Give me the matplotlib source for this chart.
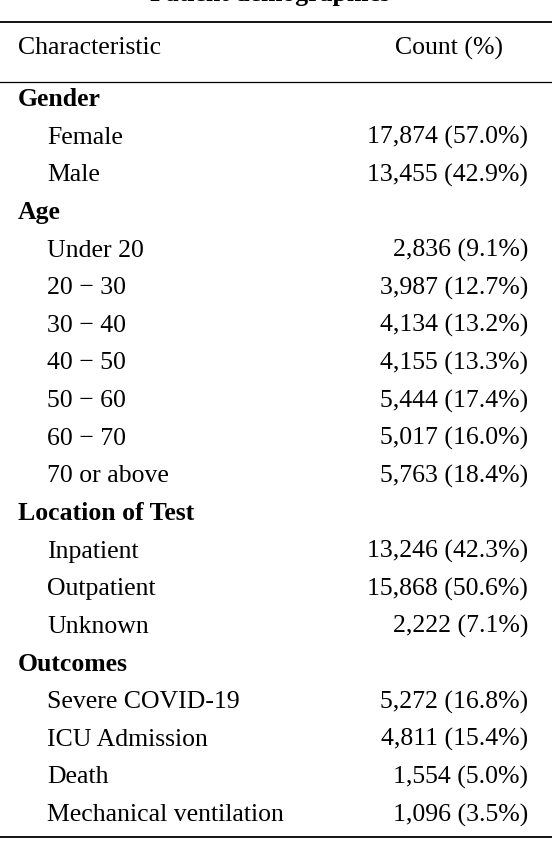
import matplotlib.pyplot as plt

sections = ["Gender", "Age", "Location of Test", "Outcomes"]
items = [
    ["Female", "Male"],
    ["Under 20", "20 − 30", "30 − 40", "40 − 50", "50 − 60", "60 − 70", "70 or above"],
    ["Inpatient", "Outpatient", "Unknown"],
    ["Severe COVID-19", "ICU Admission", "Death", "Mechanical ventilation"],
]
counts = [
    [17874, 13455],
    [2836, 3987, 4134, 4155, 5444, 5017, 5763],
    [13246, 15868, 2222],
    [5272, 4811, 1554, 1096],
]
pcts = [
    [57.0, 42.9],
    [9.1, 12.7, 13.2, 13.3, 17.4, 16.0, 18.4],
    [42.3, 50.6, 7.1],
    [16.8, 15.4, 5.0, 3.5],
]

W, H = 552, 844
fig = plt.figure(figsize=(W/100, H/100), dpi=100)
ax = fig.add_axes([0, 0, 1, 1])
ax.set_xlim(0, W); ax.set_ylim(H, 0); ax.axis("off")
fam = "Liberation Serif"
fs = 18.5

ax.text(270, -6, "Patient demographics", ha="center", va="center", fontsize=fs, fontweight="bold", family=fam)
ax.plot([0, W], [22, 22], color="black", lw=1.3)
ax.text(18, 48, "Characteristic", ha="left", va="center", fontsize=fs, family=fam)
ax.text(449, 48, "Count (%)", ha="center", va="center", fontsize=fs, family=fam)
ax.plot([0, W], [82, 82], color="black", lw=0.9)

y = 100
step = 37.63
for s, its, cs, ps in zip(sections, items, counts, pcts):
    ax.text(18, y, s, ha="left", va="center", fontsize=fs, fontweight="bold", family=fam)
    y += step
    for it, c, p in zip(its, cs, ps):
        ax.text(47, y, it, ha="left", va="center", fontsize=fs, family=fam)
        ax.text(528, y, f"{c:,} ({p:.1f}%)", ha="right", va="center", fontsize=fs, family=fam)
        y += step
ax.plot([0, W], [837, 837], color="black", lw=1.3)
fig.savefig("out.png", dpi=100)
